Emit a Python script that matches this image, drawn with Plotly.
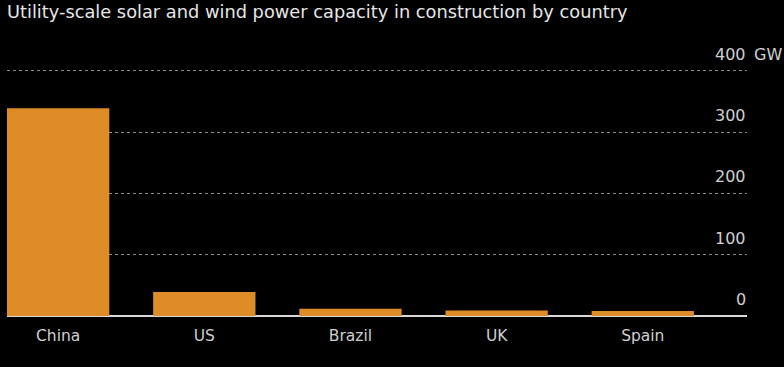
import plotly.graph_objects as go

countries = ["China", "US", "Brazil", "UK", "Spain"]
capacity_gw = [339, 39, 12, 9, 8]
tick_values = [0, 100, 200, 300, 400]
tick_labels = ["0", "100", "200", "300", "400"]
unit_label = "GW"
title_text = "Utility-scale solar and wind power capacity in construction by country"

FONT = "DejaVu Sans"
fig = go.Figure(go.Bar(x=countries, y=capacity_gw, marker=dict(color="#DE8C28", line=dict(width=0)),
                       hoverinfo="skip"))

annotations = []
for v, t in zip(tick_values, tick_labels):
    annotations.append(dict(x=1, xref="paper", xanchor="right", y=v, yref="y", yanchor="bottom",
                            yshift=5, xshift=1, text=t, showarrow=False,
                            font=dict(family=FONT, size=16, color="#d0d0d0")))
annotations.append(dict(x=1, xref="paper", xanchor="left", xshift=5, y=tick_values[-1], yref="y",
                        yanchor="bottom", yshift=5, text=unit_label, showarrow=False,
                        font=dict(family=FONT, size=16, color="#d0d0d0")))

fig.update_layout(
    width=784, height=367,
    paper_bgcolor="#000000", plot_bgcolor="#000000",
    margin=dict(l=7, r=37, t=69, b=51),
    bargap=0.3,
    showlegend=False,
    title=dict(text=title_text, xref="container", x=7/784, xanchor="left",
               yref="container", y=1 - 12/367, yanchor="middle",
               font=dict(family=FONT, size=17.8, color="#e6e6e6")),
    annotations=annotations,
    xaxis=dict(range=[-0.35, 4.713], showgrid=False, zeroline=False, showline=False,
               ticks="", ticklabelstandoff=8,
               tickfont=dict(family=FONT, size=15.5, color="#cfcfcf")),
    yaxis=dict(range=[0, 403], tickvals=tick_values, showticklabels=False, showgrid=True,
               gridcolor="#8a8a8a", griddash="dot", gridwidth=1,
               zeroline=True, zerolinecolor="#d8d8d8", zerolinewidth=1.5),
)

fig.write_html("out.html", config={"displayModeBar": False},
               post_script="document.body.style.margin='0';document.body.style.background='#000';")
